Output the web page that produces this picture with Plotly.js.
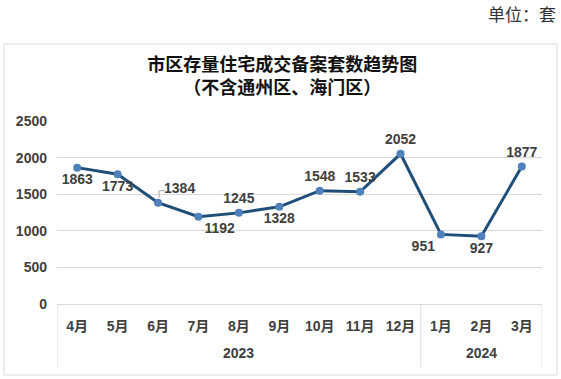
<!DOCTYPE html>
<html><head><meta charset="utf-8">
<script src="https://cdn.plot.ly/plotly-3.0.1.min.js"></script>
<style>body{margin:0;background:#fff}#c{width:561px;height:379px}</style>
</head><body><div id="c"></div>
<script>
const years = ["2023","2023","2023","2023","2023","2023","2023","2023","2023","2024","2024","2024"];
const months = ["4月","5月","6月","7月","8月","9月","10月","11月","12月","1月","2月","3月"];
const values = [1863,1773,1384,1192,1245,1328,1548,1533,2052,951,927,1877];
const labelPos = ["bottom center","bottom center","top right","bottom right","top center","bottom center","top center","top center","top center","bottom left","bottom center","top center"];
const leaderIndex = 2; // label drawn with a leader line

const lblFont = {family:"Liberation Sans, Noto Sans CJK SC", size:14, color:"#404040", weight:"bold"};
const L = 57, R = 19, T = 121, B = 75, W = 561, H = 379;
const pw = W-L-R, ph = H-T-B;
const px = x => (x-L)/pw, py = y => (H-B-y)/ph;

const groups = [];
years.forEach((y,i)=>{
  const g = groups[groups.length-1];
  if(!g || g.name!==y) groups.push({name:y, start:i, end:i}); else g.end=i;
});
const shapes = [
  {type:"rect", xref:"paper", yref:"paper", x0:px(4), x1:px(557), y0:py(375), y1:py(44),
   line:{color:"#d9d9d9", width:1}, fillcolor:"rgba(0,0,0,0)", layer:"below"},
  {type:"path", xref:"x", yref:"y", xsizemode:"pixel", ysizemode:"pixel",
   xanchor:leaderIndex, yanchor:values[leaderIndex], path:"M 1 5 L 1 12 L 7 12",
   line:{color:"#a6a6a6", width:1}}
];
const bounds = [groups[0].start-0.5].concat(groups.map(g=>g.end+0.5));
bounds.forEach(b=>shapes.push({type:"line", xref:"x", yref:"paper", x0:b, x1:b, y0:py(367), y1:0,
  line:{color:"#d9d9d9", width:1}}));
const annotations = [
  {text:"单位：套", xref:"paper", yref:"paper", x:px(558), y:py(13), xanchor:"right", yanchor:"middle",
   showarrow:false, font:{family:"Noto Sans CJK SC", size:17, color:"#333"}}
];
groups.forEach(g=>annotations.push({text:g.name, xref:"x", yref:"paper", x:(g.start+g.end)/2, y:py(353),
  xanchor:"center", yanchor:"middle", showarrow:false, font:lblFont}));

const trace = {
  type:"scatter", mode:"lines+markers+text",
  x:months, y:values,
  text: values.map(String), textposition: labelPos,
  textfont: lblFont,
  line:{color:"#1f4e79", width:3},
  marker:{color:"#4f81bd", size:8},
  cliponaxis:false, hoverinfo:"none"
};
const layout = {
  width:W, height:H, margin:{l:L,r:R,t:T,b:B},
  paper_bgcolor:"#fff", plot_bgcolor:"#fff", showlegend:false,
  title:{text:"市区存量住宅成交备案套数趋势图<br>（不含通州区、海门区）",
    font:{family:"Noto Sans CJK SC", size:18, color:"#111", weight:"bold"},
    x:0.503, xanchor:"center", y:0.813, yanchor:"middle"},
  xaxis:{type:"category", range:[-0.5, 11.5], showgrid:false, zeroline:false, showline:false,
    tickfont:lblFont, ticks:"", ticklabelstandoff:12, fixedrange:true},
  yaxis:{range:[0,2500], tickvals:[0,500,1000,1500,2000,2500], showgrid:true,
    gridcolor:"#d9d9d9", gridwidth:1, zeroline:true, zerolinecolor:"#d9d9d9", zerolinewidth:1,
    showline:false, tickfont:lblFont, ticklabelstandoff:9, fixedrange:true},
  shapes:shapes, annotations:annotations
};
Plotly.newPlot("c",[trace],layout,{staticPlot:true});
</script></body></html>
